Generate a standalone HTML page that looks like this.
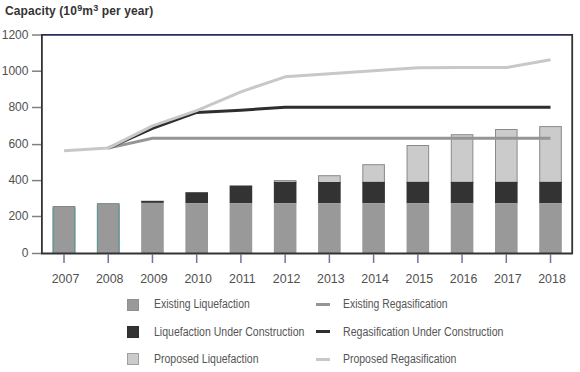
<!DOCTYPE html>
<html><head><meta charset="utf-8"><style>
html,body{margin:0;padding:0;background:#fff;}
body{width:580px;height:372px;position:relative;overflow:hidden;font-family:"Liberation Sans",sans-serif;color:#505050;}
.t{position:absolute;white-space:nowrap;line-height:1;}
.yl{position:absolute;right:551.6px;font-size:12px;line-height:12px;text-align:right;}
.xl{position:absolute;width:40px;font-size:12.4px;line-height:12px;text-align:center;}
.lg{position:absolute;color:#555;font-size:12px;line-height:12px;transform-origin:0 0;white-space:nowrap;}
svg{position:absolute;left:0;top:0;}
</style></head><body>

<div class="t" style="left:5px;top:5px;font-size:12px;font-weight:bold;color:#333;letter-spacing:0.1px;">Capacity (10<span style="font-size:9px;position:relative;top:-3.6px;margin-left:0.3px;">9</span>m<span style="font-size:9px;position:relative;top:-3.6px;margin-left:0.2px;">3</span> per year)</div>
<svg width="580" height="372" viewBox="0 0 580 372"><rect x="52.70" y="206.00" width="22.60" height="47.20" fill="#999999"/><path d="M53.20,253.20 V206.50 H74.80 V253.20" fill="none" stroke="#7d8a8a" stroke-width="1"/><path d="M53.20,253.20 V208.00 M74.80,208.00 V253.20" fill="none" stroke="#5f9c9c" stroke-width="1"/><rect x="96.93" y="203.20" width="22.60" height="50.00" fill="#999999"/><path d="M97.43,253.20 V203.70 H119.03 V253.20" fill="none" stroke="#7d8a8a" stroke-width="1"/><path d="M97.43,253.20 V205.20 M119.03,205.20 V253.20" fill="none" stroke="#5f9c9c" stroke-width="1"/><rect x="141.16" y="200.80" width="22.60" height="2.10" fill="#333333"/><rect x="141.16" y="202.90" width="22.60" height="50.30" fill="#999999"/><rect x="185.39" y="192.20" width="22.60" height="11.20" fill="#333333"/><rect x="185.39" y="203.40" width="22.60" height="49.80" fill="#999999"/><rect x="229.62" y="185.50" width="22.60" height="17.90" fill="#333333"/><rect x="229.62" y="203.40" width="22.60" height="49.80" fill="#999999"/><rect x="274.35" y="180.60" width="21.60" height="1.80" fill="#cbcbcb" stroke="#8a8a8a" stroke-width="1"/><rect x="273.85" y="181.90" width="22.60" height="21.50" fill="#333333"/><rect x="273.85" y="203.40" width="22.60" height="49.80" fill="#999999"/><rect x="318.58" y="175.70" width="21.60" height="6.80" fill="#cbcbcb" stroke="#8a8a8a" stroke-width="1"/><rect x="318.08" y="182.00" width="22.60" height="21.40" fill="#333333"/><rect x="318.08" y="203.40" width="22.60" height="49.80" fill="#999999"/><rect x="362.81" y="164.70" width="21.60" height="17.70" fill="#cbcbcb" stroke="#8a8a8a" stroke-width="1"/><rect x="362.31" y="181.90" width="22.60" height="21.50" fill="#333333"/><rect x="362.31" y="203.40" width="22.60" height="49.80" fill="#999999"/><rect x="407.04" y="145.50" width="21.60" height="36.90" fill="#cbcbcb" stroke="#8a8a8a" stroke-width="1"/><rect x="406.54" y="181.90" width="22.60" height="21.50" fill="#333333"/><rect x="406.54" y="203.40" width="22.60" height="49.80" fill="#999999"/><rect x="451.27" y="134.70" width="21.60" height="47.70" fill="#cbcbcb" stroke="#8a8a8a" stroke-width="1"/><rect x="450.77" y="181.90" width="22.60" height="21.50" fill="#333333"/><rect x="450.77" y="203.40" width="22.60" height="49.80" fill="#999999"/><rect x="495.50" y="129.50" width="21.60" height="52.90" fill="#cbcbcb" stroke="#8a8a8a" stroke-width="1"/><rect x="495.00" y="181.90" width="22.60" height="21.50" fill="#333333"/><rect x="495.00" y="203.40" width="22.60" height="49.80" fill="#999999"/><rect x="539.73" y="126.60" width="21.60" height="55.80" fill="#cbcbcb" stroke="#8a8a8a" stroke-width="1"/><rect x="539.23" y="181.90" width="22.60" height="21.50" fill="#333333"/><rect x="539.23" y="203.40" width="22.60" height="49.80" fill="#999999"/><polyline points="108.23,148.10 152.46,138.30 196.69,138.30 240.92,138.30 285.15,138.30 329.38,138.30 373.61,138.30 417.84,138.30 462.07,138.30 506.30,138.30 550.53,138.30" fill="none" stroke="#959595" stroke-width="3" stroke-linejoin="round"/><polyline points="108.23,148.10 152.46,128.40 196.69,112.40 240.92,110.20 285.15,107.30 329.38,107.30 373.61,107.30 417.84,107.30 462.07,107.30 506.30,107.30 550.53,107.30" fill="none" stroke="#2e2e2e" stroke-width="3" stroke-linejoin="round"/><polyline points="64.00,150.70 108.23,148.10 152.46,125.80 196.69,110.60 240.92,91.80 285.15,76.80 329.38,73.80 373.61,70.80 417.84,67.70 462.07,67.60 506.30,67.60 550.53,59.70" fill="none" stroke="#c8c8c8" stroke-width="3" stroke-linejoin="round"/><path d="M41.9,253.5 V34.9" stroke="#333" stroke-width="1.8" fill="none"/><path d="M41,34.9 H573" stroke="#2c2c58" stroke-width="1.8" fill="none"/><path d="M572.2,34 V253.5" stroke="#333" stroke-width="1.8" fill="none"/><path d="M41,253.5 H573" stroke="#333" stroke-width="1.8" fill="none"/><path d="M32,253.50 H41" stroke="#808080" stroke-width="1.5"/><path d="M32,216.50 H41" stroke="#808080" stroke-width="1.5"/><path d="M32,180.60 H41" stroke="#808080" stroke-width="1.5"/><path d="M32,144.60 H41" stroke="#808080" stroke-width="1.5"/><path d="M32,107.50 H41" stroke="#808080" stroke-width="1.5"/><path d="M32,71.20 H41" stroke="#808080" stroke-width="1.5"/><path d="M32,35.00 H41" stroke="#808080" stroke-width="1.5"/><path d="M64.00,254 V263" stroke="#72729a" stroke-width="1.5"/><path d="M108.23,254 V263" stroke="#72729a" stroke-width="1.5"/><path d="M152.46,254 V263" stroke="#72729a" stroke-width="1.5"/><path d="M196.69,254 V263" stroke="#72729a" stroke-width="1.5"/><path d="M240.92,254 V263" stroke="#72729a" stroke-width="1.5"/><path d="M285.15,254 V263" stroke="#72729a" stroke-width="1.5"/><path d="M329.38,254 V263" stroke="#72729a" stroke-width="1.5"/><path d="M373.61,254 V263" stroke="#72729a" stroke-width="1.5"/><path d="M417.84,254 V263" stroke="#72729a" stroke-width="1.5"/><path d="M462.07,254 V263" stroke="#72729a" stroke-width="1.5"/><path d="M506.30,254 V263" stroke="#72729a" stroke-width="1.5"/><path d="M550.53,254 V263" stroke="#72729a" stroke-width="1.5"/></svg>
<div class="yl" style="top:247.00px;">0</div>
<div class="yl" style="top:210.00px;">200</div>
<div class="yl" style="top:174.10px;">400</div>
<div class="yl" style="top:138.10px;">600</div>
<div class="yl" style="top:101.00px;">800</div>
<div class="yl" style="top:64.70px;">1000</div>
<div class="yl" style="top:28.50px;">1200</div>
<div class="xl" style="left:45.50px;top:273px;">2007</div>
<div class="xl" style="left:89.73px;top:273px;">2008</div>
<div class="xl" style="left:133.96px;top:273px;">2009</div>
<div class="xl" style="left:178.19px;top:273px;">2010</div>
<div class="xl" style="left:222.42px;top:273px;">2011</div>
<div class="xl" style="left:266.65px;top:273px;">2012</div>
<div class="xl" style="left:310.88px;top:273px;">2013</div>
<div class="xl" style="left:355.11px;top:273px;">2014</div>
<div class="xl" style="left:399.34px;top:273px;">2015</div>
<div class="xl" style="left:443.57px;top:273px;">2016</div>
<div class="xl" style="left:487.80px;top:273px;">2017</div>
<div class="xl" style="left:532.03px;top:273px;">2018</div>
<div style="position:absolute;left:127px;top:298.6px;width:10px;height:10px;background:#999999;border:1px solid #8f8f8f;"></div>
<div class="lg" style="left:153.6px;top:298.23px;transform:scaleX(0.8700);">Existing Liquefaction</div>
<div style="position:absolute;left:316px;top:302.6px;width:14px;height:3px;background:#959595;"></div>
<div class="lg" style="left:343.0px;top:298.23px;transform:scaleX(0.8660);">Existing Regasification</div>
<div style="position:absolute;left:127px;top:326.0px;width:10px;height:10px;background:#333333;border:1px solid #2e2e2e;"></div>
<div class="lg" style="left:153.6px;top:325.53px;transform:scaleX(0.8770);">Liquefaction Under Construction</div>
<div style="position:absolute;left:316px;top:330.0px;width:14px;height:3px;background:#2e2e2e;"></div>
<div class="lg" style="left:343.0px;top:325.53px;transform:scaleX(0.8810);">Regasification Under Construction</div>
<div style="position:absolute;left:127px;top:353.3px;width:10px;height:10px;background:#cbcbcb;border:1px solid #a0a0a0;"></div>
<div class="lg" style="left:153.6px;top:352.83px;transform:scaleX(0.8750);">Proposed Liquefaction</div>
<div style="position:absolute;left:316px;top:358.0px;width:14px;height:3px;background:#c8c8c8;"></div>
<div class="lg" style="left:343.0px;top:352.83px;transform:scaleX(0.8720);">Proposed Regasification</div>
</body></html>
